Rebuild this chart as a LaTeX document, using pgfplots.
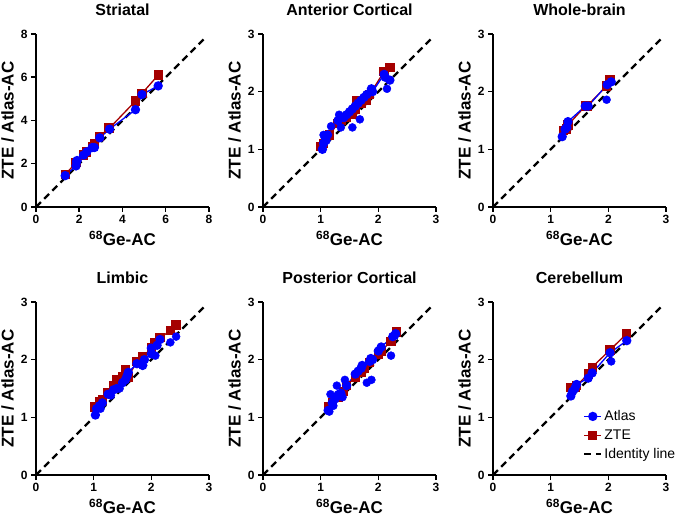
\documentclass[border=0pt]{standalone}
\usepackage{fontspec}
\setmainfont{Liberation Sans}
\usepackage{pgfplots}
\pgfplotsset{compat=1.18}

\definecolor{zred}{RGB}{165,0,0}
\definecolor{ablue}{RGB}{0,0,255}

\pgfplotsset{
  panel/.style={
    scale only axis, width=173pt, height=173pt,
    anchor=south west,
    axis lines=left, axis line style={-, line width=1.8pt},
    tick style={line width=1.5pt, black}, tick align=outside, major tick length=5pt,
    xmin=0, ymin=0, clip=false,
    /pgf/number format/assume math mode=true,
    tick label style={font=\bfseries\fontsize{12}{12}\selectfont},
    label style={font=\bfseries\fontsize{17}{17}\selectfont},
    title style={font=\bfseries\fontsize{16}{16}\selectfont, yshift=9pt},
    xlabel={\textsuperscript{68}Ge-AC}, ylabel={ZTE / Atlas-AC},
  },
  three/.style={xmax=3, ymax=3, xtick={0,1,2,3}, ytick={0,1,2,3}},
  atlas/.style={ablue, line width=1.3pt, mark=*, mark size=4pt, mark options={solid, fill=ablue, draw=ablue}},
  atlasx/.style={ablue, only marks, mark=*, mark size=4pt, mark options={solid, fill=ablue, draw=ablue}},
  zte/.style={zred, line width=1.3pt, mark=square*, mark size=4pt, mark options={solid, fill=zred, draw=zred}},
  ident/.style={black, line width=2.2pt, dash pattern=on 7pt off 4.5pt},
}

\begin{document}
\begin{tikzpicture}
\path[use as bounding box] (0pt,0pt) rectangle (685pt,-518pt);

% Striatal
\begin{axis}[panel, at={(36pt,-207pt)}, title={Striatal}, xmax=8, ymax=8,
  xtick={0,2,4,6,8}, ytick={0,2,4,6,8}]
\addplot[ident] coordinates {(0,0) (7.85,7.85)};
\addplot[zte] coordinates {(1.35,1.5) (1.85,2.05) (2.2,2.4) (2.35,2.55) (2.6,2.8) (2.7,2.95) (2.95,3.25) (3.35,3.65) (3.4,3.65) (4.6,4.9) (4.9,5.25) (5.65,6.1)};
\addplot[atlas] coordinates {(1.35,1.45) (1.85,1.9) (1.88,2.1) (1.9,2.15) (2.2,2.4) (2.35,2.55) (2.6,2.75) (2.7,2.75) (2.95,3.2) (3.4,3.6) (4.6,4.5) (4.9,5.2) (5.65,5.6)};
\end{axis}

% Anterior Cortical
\begin{axis}[panel, three, at={(263pt,-207pt)}, title={Anterior Cortical}]
\addplot[ident] coordinates {(0,0) (2.95,2.95)};
\addplot[zte] coordinates {(1.0,1.05) (1.05,1.1) (1.15,1.25) (1.3,1.45) (1.35,1.5) (1.45,1.55) (1.55,1.6) (1.6,1.7) (1.62,1.85) (1.7,1.8) (1.8,1.85) (1.85,1.95) (2.1,2.35) (2.2,2.42)};
\addplot[atlas] coordinates {(1.03,1.0) (1.05,1.1) (1.08,1.2) (1.12,1.25) (1.3,1.5) (1.4,1.55) (1.45,1.6) (1.5,1.65) (1.55,1.7) (1.6,1.75) (1.65,1.8) (1.7,1.85) (1.75,1.9) (1.8,1.95) (1.88,2.05) (1.9,2.0) (2.1,2.3) (2.12,2.25) (2.2,2.2)};
\addplot[atlasx] coordinates {(1.05,1.25) (1.1,1.15) (1.18,1.4) (1.32,1.6) (1.35,1.38) (1.55,1.38) (1.68,1.52) (2.15,2.05)};
\end{axis}

% Whole-brain
\begin{axis}[panel, three, at={(493pt,-207pt)}, title={Whole-brain}]
\addplot[ident] coordinates {(0,0) (2.95,2.95)};
\addplot[zte] coordinates {(1.22,1.33) (1.28,1.35) (1.3,1.42) (1.6,1.75) (1.63,1.75) (1.97,2.1) (2.03,2.2)};
\addplot[atlas] coordinates {(1.2,1.22) (1.25,1.35) (1.28,1.38) (1.3,1.48) (1.6,1.75) (1.65,1.75) (1.98,2.12) (2.05,2.17)};
\addplot[atlasx] coordinates {(1.97,1.86)};
\end{axis}

% Limbic
\begin{axis}[panel, three, at={(36pt,-475pt)}, title={Limbic}]
\addplot[ident] coordinates {(0,0) (2.95,2.95)};
\addplot[zte] coordinates {(1.02,1.18) (1.1,1.28) (1.15,1.3) (1.25,1.42) (1.35,1.55) (1.4,1.65) (1.5,1.7) (1.55,1.82) (1.6,1.7) (1.75,1.97) (1.85,2.05) (2.0,2.2) (2.05,2.3) (2.15,2.38) (2.33,2.5) (2.43,2.6)};
\addplot[atlas] coordinates {(1.03,1.04) (1.05,1.15) (1.1,1.2) (1.15,1.25) (1.25,1.4) (1.35,1.48) (1.4,1.5) (1.5,1.6) (1.55,1.65) (1.58,1.72) (1.6,1.78) (1.75,1.93) (1.85,1.9) (1.88,2.0) (2.0,2.1) (2.0,2.2) (2.1,2.25) (2.15,2.35)};
\addplot[atlasx] coordinates {(1.12,1.15) (1.3,1.38) (1.45,1.5) (2.07,2.07) (2.33,2.3) (2.43,2.4)};
\end{axis}

% Posterior Cortical
\begin{axis}[panel, three, at={(263pt,-475pt)}, title={Posterior Cortical}]
\addplot[ident] coordinates {(0,0) (2.95,2.95)};
\addplot[zte] coordinates {(1.13,1.18) (1.2,1.25) (1.3,1.35) (1.4,1.45) (1.45,1.55) (1.6,1.7) (1.7,1.78) (1.75,1.85) (1.85,1.95) (2.0,2.1) (2.05,2.15) (2.22,2.32) (2.32,2.48)};
\addplot[atlas] coordinates {(1.13,1.12) (1.2,1.25) (1.25,1.32) (1.35,1.42) (1.45,1.55) (1.6,1.75) (1.65,1.8) (1.7,1.85) (1.72,1.9) (1.85,1.97) (1.87,2.02) (1.9,2.0) (2.0,2.15) (2.05,2.22) (2.25,2.4) (2.28,2.42) (2.3,2.45)};
\addplot[atlasx] coordinates {(1.15,1.1) (1.17,1.4) (1.22,1.2) (1.28,1.55) (1.3,1.4) (1.38,1.35) (1.42,1.65) (1.8,1.6) (1.88,1.65) (2.22,2.07)};
\end{axis}

% Cerebellum
\begin{axis}[panel, three, at={(493pt,-475pt)}, title={Cerebellum},
  legend style={draw=none, fill=none, at={(0.52,0.385)}, anchor=north west,
    font=\fontsize{14}{16}\selectfont, row sep=3.5pt, inner sep=0pt},
  legend cell align=left]
\addlegendimage{atlas}\addlegendentry{Atlas}
\addlegendimage{zte}\addlegendentry{ZTE}
\addlegendimage{ident}\addlegendentry{Identity line}
\addplot[ident, forget plot] coordinates {(0,0) (2.95,2.95)};
\addplot[zte, forget plot] coordinates {(1.35,1.52) (1.42,1.52) (1.45,1.55) (1.65,1.75) (1.72,1.87) (2.03,2.17) (2.32,2.45)};
\addplot[atlas, forget plot] coordinates {(1.35,1.37) (1.38,1.45) (1.42,1.5) (1.45,1.57) (1.65,1.68) (1.72,1.77) (2.03,2.12) (2.32,2.33)};
\addplot[atlasx, forget plot] coordinates {(2.05,1.97)};
\end{axis}
\end{tikzpicture}
\end{document}
